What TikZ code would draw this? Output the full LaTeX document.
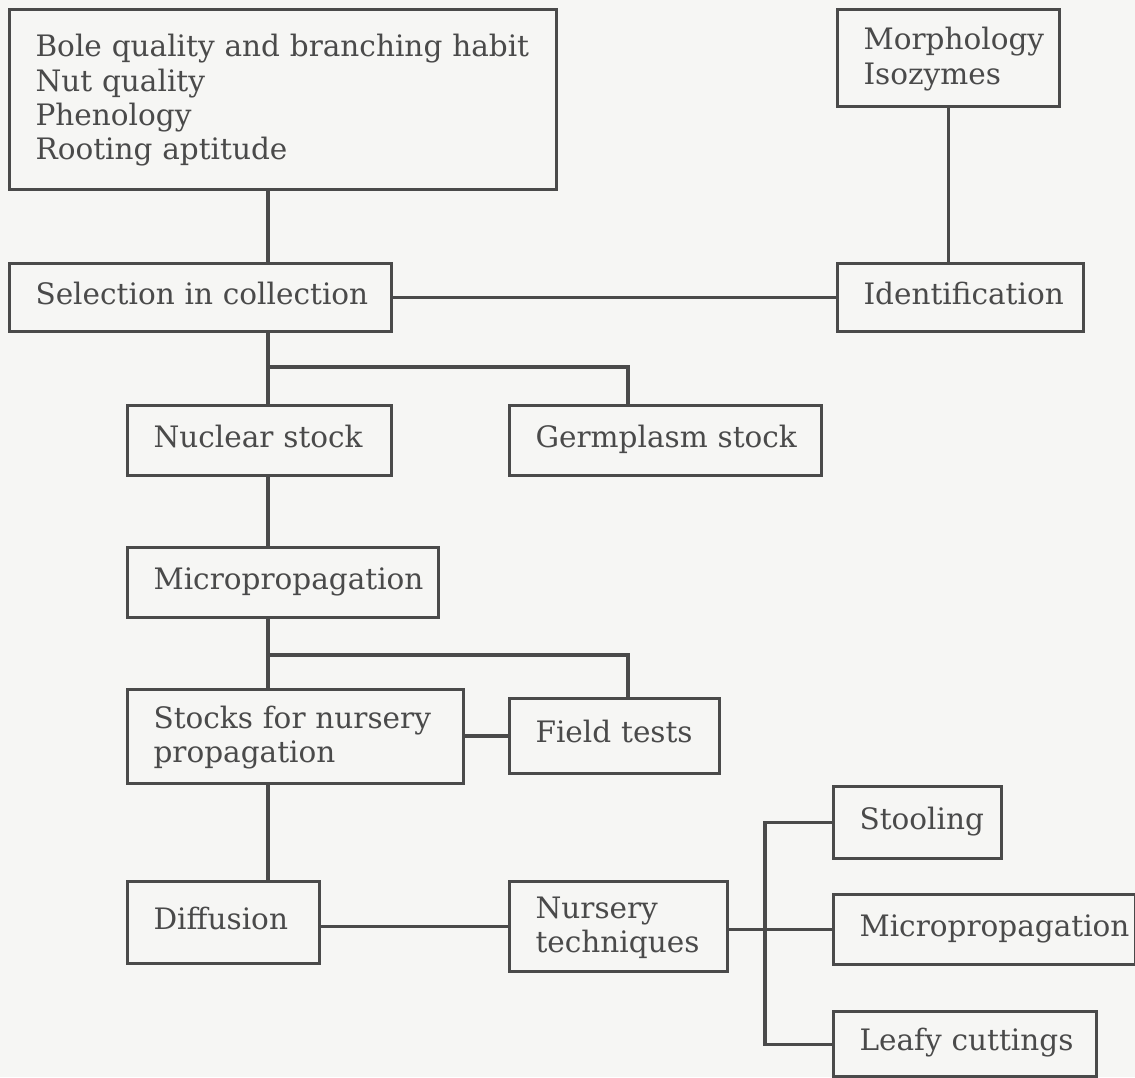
\documentclass[tikz,border=0pt]{standalone}
\usepackage{fontspec}
\setmainfont{DejaVu Serif}
\definecolor{ink}{HTML}{4A4A4A}
\definecolor{paper}{HTML}{F6F6F4}
\tikzset{
	box/.style={draw=ink,text=ink,line width=2.2pt,anchor=north west,align=left,
		inner xsep=0.15cm,inner ysep=0pt,minimum height=#1,
		execute at begin node={\leftskip=0.5cm\hyphenpenalty=10000\relax\strut}},
	link/.style={draw=ink,line width=2.2pt},
}
\begin{document}
\begin{tikzpicture}[x=0.25cm,y=0.25cm,font=\fontsize{21}{24.5}\selectfont]
		\fill[paper] (0,0) rectangle (113.5,107.7);
		\useasboundingbox (0,0) rectangle (113.5,107.7);
		\coordinate (trunk) at (26.8,0);
		\coordinate (fork) at (62.8,0);
		\coordinate (bus) at (76.5,0);
		\node[box=4.5cm,text width=13.375cm] (traits) at (0.8,106.9) {Bole quality and branching habit\\Nut quality\\Phenology\\Rooting aptitude};
		\node[box=2.425cm,text width=5.25cm] (markers) at (83.6,106.9) {Morphology\\Isozymes};
		\node[box=1.7cm,text width=9.25cm] (select) at (0.8,81.5) {Selection in collection};
		\node[box=1.7cm,text width=5.85cm] (ident) at (83.6,81.5) {Identification};
		\node[box=1.75cm,text width=6.3cm] (nuclear) at (12.6,67.3) {Nuclear stock};
		\node[box=1.75cm,text width=7.5cm] (germ) at (50.8,67.3) {Germplasm stock};
		\node[box=1.75cm,text width=7.475cm] (micro) at (12.6,53.1) {Micropropagation};
		\node[box=2.35cm,text width=8.1cm] (stocks) at (12.6,38.9) {Stocks for nursery\\propagation};
		\node[box=1.875cm,text width=4.95cm] (field) at (50.8,38.0) {Field tests};
		\node[box=2.05cm,text width=4.5cm] (diffuse) at (12.6,19.7) {Diffusion};
		\node[box=2.25cm,text width=5.15cm] (nursery) at (50.8,19.7) {Nursery\\techniques};
		\node[box=1.8cm,text width=3.9cm] (stool) at (83.2,29.2) {Stooling};
		\node[box=1.75cm,text width=7.25cm] (micro2) at (83.2,18.4) {Micropropagation};
		\node[box=1.625cm,text width=6.275cm] (leafy) at (83.2,6.7) {Leafy cuttings};
		\draw[link] (traits.south -| trunk) -- (select.north -| trunk);
		\draw[link] (markers.south) -- (markers.south |- ident.north);
		\draw[link] (select.east) -- (ident.west);
		\draw[link] (select.south -| trunk) -- (nuclear.north -| trunk);
		\draw[link] (trunk |- 0,71.0) -| (germ.north -| fork);
		\draw[link] (nuclear.south -| trunk) -- (micro.north -| trunk);
		\draw[link] (micro.south -| trunk) -- (stocks.north -| trunk);
		\draw[link] (trunk |- 0,42.2) -| (field.north -| fork);
		\draw[link] (stocks.east |- field.west) -- (field.west);
		\draw[link] (stocks.south -| trunk) -- (diffuse.north -| trunk);
		\draw[link] (diffuse.east |- nursery.west) -- (nursery.west);
		\draw[link] (nursery.east |- micro2.west) -- (micro2.west);
		\draw[link] (stool.west) -| (bus |- leafy.west) -- (leafy.west);
		\end{tikzpicture}
\end{document}
